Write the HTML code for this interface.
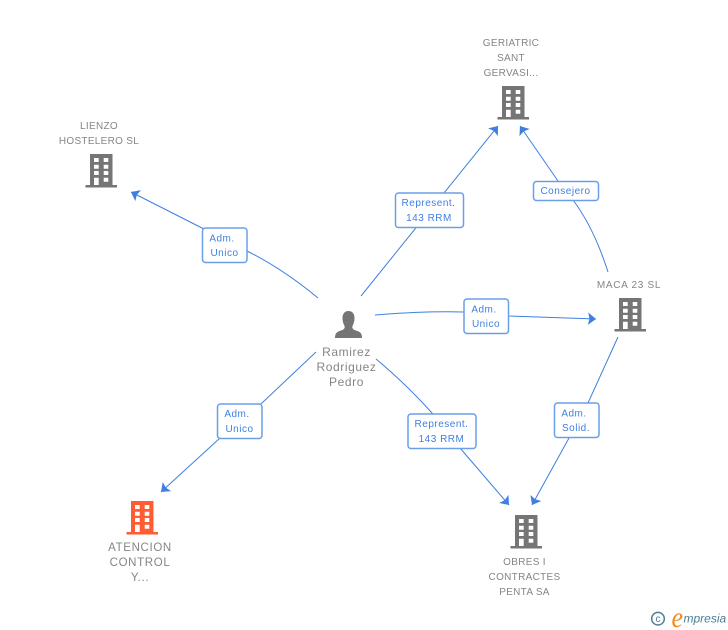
<!DOCTYPE html>
<html>
<head>
<meta charset="utf-8">
<style>
html,body{margin:0;padding:0;background:#fff;width:728px;height:630px;overflow:hidden}
svg{display:block}
text{font-family:"Liberation Sans",sans-serif}
.n{font-size:10px;fill:#858585;text-anchor:middle;letter-spacing:.3px}
.a{font-size:11.500px;fill:#858585;text-anchor:middle;letter-spacing:.65px}
.p{font-size:12px;fill:#858585;text-anchor:middle;letter-spacing:.6px}
.t{font-size:10px;fill:#3f7fe0;text-anchor:middle;letter-spacing:.5px}
.l{fill:none;stroke:#3f7fe0;stroke-width:1}
.b{fill:#fff;stroke:#6a9fe8;stroke-width:1.5}
</style>
</head>
<body>
<svg width="728" height="630" viewBox="0 0 728 630" xmlns="http://www.w3.org/2000/svg">
<defs>
<marker id="h" markerUnits="userSpaceOnUse" markerWidth="12" markerHeight="14" refX="9" refY="7" orient="auto">
<path d="M9,7 L1,0.800 L2.500,7 L1,13.200Z" fill="#3f7fe0"/>
</marker>
<g id="bd">
<path fill-rule="evenodd" d="M0,0H22.500V31H27V33.500H-4.500V31H0Z M4,4V8H8.700V4Z M13.700,4V8H18.300V4Z M4,10.700V14.700H8.700V10.700Z M13.700,10.700V14.700H18.300V10.700Z M4,17V21H8.700V17Z M13.700,17V21H18.300V17Z M4,23.700V31H8.700V23.700Z M13.700,23.700V27.700H18.300V23.700Z"/>
</g>
</defs>

<!-- connectors -->
<path class="l" marker-end="url(#h)" d="M318,298 Q283,269 247,251 L202,228 L131,192"/>
<path class="l" marker-end="url(#h)" d="M361,296 L498,126"/>
<path class="l" marker-end="url(#h)" d="M608,272 Q594,228 573,200 L558,181 L520,126"/>
<path class="l" marker-end="url(#h)" d="M375,315 Q425,311 463,312 L509,316 L596,319"/>
<path class="l" marker-end="url(#h)" d="M618,337 L588,403 L569,438 L532,505"/>
<path class="l" marker-end="url(#h)" d="M376,359 Q406,384 432,413 L460,448 L509,505"/>
<path class="l" marker-end="url(#h)" d="M316,352 L262,403 L220,438 L161,492"/>

<!-- connector labels -->
<rect class="b" x="202.500" y="228" width="44.500" height="34.500" rx="3"/>
<text class="t" x="222" y="241.500">Adm.</text><text class="t" x="224.500" y="256">Unico</text>

<rect class="b" x="395.500" y="193" width="68" height="34.500" rx="3"/>
<text class="t" x="428.500" y="206">Represent.</text><text class="t" x="429" y="221">143 RRM</text>

<rect class="b" x="533.500" y="181.500" width="65" height="19" rx="3"/>
<text class="t" x="565.500" y="194">Consejero</text>

<rect class="b" x="464" y="299" width="44.500" height="34.500" rx="3"/>
<text class="t" x="484" y="312.500">Adm.</text><text class="t" x="486" y="327">Unico</text>

<rect class="b" x="554.500" y="403" width="44.500" height="34.500" rx="3"/>
<text class="t" x="574" y="416.500">Adm.</text><text class="t" x="576" y="431">Solid.</text>

<rect class="b" x="217.500" y="404" width="44.500" height="34.500" rx="3"/>
<text class="t" x="237" y="417">Adm.</text><text class="t" x="239.500" y="432">Unico</text>

<rect class="b" x="408" y="414" width="68" height="34.500" rx="3"/>
<text class="t" x="441.500" y="427">Represent.</text><text class="t" x="441.500" y="442">143 RRM</text>

<!-- nodes -->
<use href="#bd" x="90" y="154" fill="#757575"/>
<text class="n" x="99" y="129">LIENZO</text>
<text class="n" x="99" y="144">HOSTELERO SL</text>

<use href="#bd" x="502" y="86" fill="#757575"/>
<text class="n" x="511" y="46">GERIATRIC</text>
<text class="n" x="511" y="61">SANT</text>
<text class="n" x="511" y="76">GERVASI...</text>

<use href="#bd" x="619" y="298" fill="#757575"/>
<text class="n" x="629" y="288" style="letter-spacing:.7px">MACA 23 SL</text>

<use href="#bd" x="131" y="501" fill="#ff5c33"/>
<text class="a" x="140" y="551">ATENCION</text>
<text class="a" x="140" y="566">CONTROL</text>
<text class="a" x="140" y="581">Y...</text>

<use href="#bd" x="515" y="515" fill="#757575"/>
<text class="n" x="524.500" y="565">OBRES I</text>
<text class="n" x="524.500" y="580">CONTRACTES</text>
<text class="n" x="524.500" y="595">PENTA SA</text>

<!-- person -->
<path fill="#757575" d="M348.500,311 C344,311 342.300,314.500 342.500,319 C342.700,322 343.700,324.500 344.700,326.500 C344.700,328.500 344,329.500 341,330.500 C337,331.800 335,333 335,338 H362 C362,333 360,331.800 356,330.500 C353,329.500 352.300,328.500 352.300,326.500 C353.300,324.500 354.300,322 354.500,319 C354.700,314.500 353,311 348.500,311Z"/>
<text class="p" x="346.500" y="356">Ramirez</text>
<text class="p" x="346.500" y="371">Rodriguez</text>
<text class="p" x="346.500" y="386">Pedro</text>

<!-- logo -->
<circle cx="658" cy="618.700" r="6.300" fill="none" stroke="#4a7f94" stroke-width="1.500"/>
<text x="658" y="622" font-size="10" fill="#4a7f94" text-anchor="middle">c</text>
<text transform="translate(671.500,627) scale(1.300,1.500)" font-size="20" fill="#f08a1d" style="font-family:'Liberation Serif',serif;font-style:italic">e</text>
<text x="683.500" y="622.500" font-size="12" fill="#4a7f94" style="font-style:italic">mpresia</text>
</svg>
</body>
</html>
